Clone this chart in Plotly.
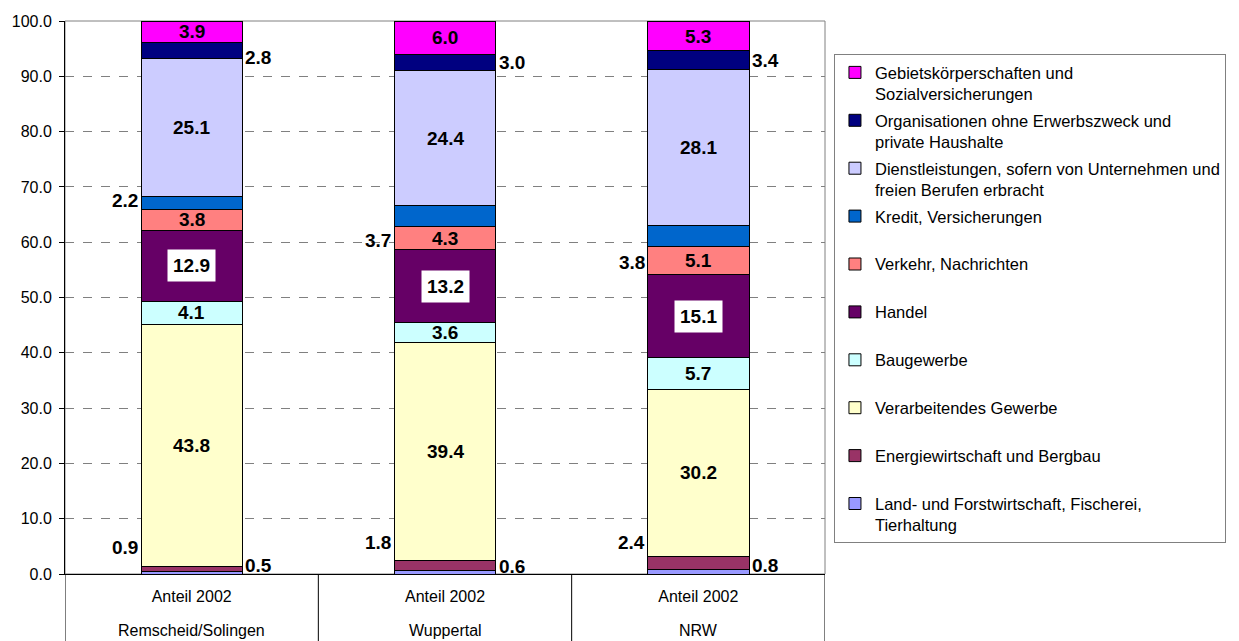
import plotly.graph_objects as go

regions = ["Remscheid/Solingen", "Wuppertal", "NRW"]
inner = ["Anteil 2002", "Anteil 2002", "Anteil 2002"]

# stacking order bottom -> top
sectors = [
    "Land- und Forstwirtschaft, Fischerei,<br>Tierhaltung",
    "Energiewirtschaft und Bergbau<br> ",
    "Verarbeitendes Gewerbe<br> ",
    "Baugewerbe<br> ",
    "Handel<br> ",
    "Verkehr, Nachrichten<br> ",
    "Kredit, Versicherungen<br> ",
    "Dienstleistungen, sofern von Unternehmen und<br>freien Berufen erbracht",
    "Organisationen ohne Erwerbszweck und<br>private Haushalte",
    "Gebietskörperschaften und<br>Sozialversicherungen",
]

land = [0.5, 0.6, 0.8]
energie = [0.9, 1.8, 2.4]
verarbeitend = [43.8, 39.4, 30.2]
bau = [4.1, 3.6, 5.7]
handel = [12.9, 13.2, 15.1]
verkehr = [3.8, 4.3, 5.1]
kredit = [2.2, 3.7, 3.8]
dienst = [25.1, 24.4, 28.1]
organisationen = [2.8, 3.0, 3.4]
gebiet = [3.9, 6.0, 5.3]

series = [land, energie, verarbeitend, bau, handel, verkehr, kredit, dienst, organisationen, gebiet]

colors = ["#9999FF", "#993366", "#FFFFCC", "#CCFFFF", "#660066",
          "#FF8080", "#0066CC", "#CCCCFF", "#000080", "#FF00FF"]

# label placement style per series: (side, yshift per region in px)
label_style = {
    0: ("right", [7, 6, 6]),
    1: ("left", [21, 23, 20]),
    6: ("left", [2, -25, -27]),
    8: ("right", [-7, 0, 0]),
}

FONT = "Liberation Sans, Arial"

fig = go.Figure()
n = len(series)
for k, (name, vals, col) in enumerate(zip(sectors, series, colors)):
    fig.add_trace(go.Bar(
        x=regions, y=vals, name=name,
        marker=dict(color=col, line=dict(color="black", width=1)),
        legendgroup=f"g{k}", legendrank=n - k,
    ))

annotations = []
for i in range(len(regions)):
    base = 0.0
    for k, vals in enumerate(series):
        v = vals[i]
        mid = base + v / 2
        txt = f"{v:.1f}"
        font = dict(family=FONT, size=19, color="black")
        if k in label_style:
            side, shifts = label_style[k]
            annotations.append(dict(
                x=i + (0.2 if side == "right" else -0.2), y=mid, xref="x", yref="y",
                text=f"<b>{txt}</b>", showarrow=False,
                xanchor="left" if side == "right" else "right",
                xshift=1 if side == "right" else -1,
                yshift=shifts[i], font=font,
            ))
        else:
            ann = dict(x=i, y=mid, xref="x", yref="y", text=f"<b>{txt}</b>",
                       showarrow=False, font=font)
            if k == 4:
                ann.update(bgcolor="white", borderpad=5)
            annotations.append(ann)
        base += v
    # outer category row (region name)
    annotations.append(dict(
        x=i, y=-0.103, xref="x", yref="paper", text=regions[i], showarrow=False,
        yanchor="middle", font=dict(family=FONT, size=16, color="black"),
    ))

shapes = [dict(type="rect", xref="paper", yref="paper", x0=0, x1=1, y0=0, y1=1,
               line=dict(color="#808080", width=1), layer="below")]
for b in [-0.5, 0.5, 1.5, 2.5]:
    shapes.append(dict(type="line", xref="x", yref="paper", x0=b, x1=b, y0=0, y1=-0.125,
                       line=dict(color="black", width=1)))

fig.update_layout(
    width=1231, height=633,
    margin=dict(l=57, r=414, t=13, b=67),
    paper_bgcolor="white", plot_bgcolor="white",
    barmode="stack", bargap=0.6,
    font=dict(family=FONT, size=16, color="black"),
    annotations=annotations,
    shapes=shapes,
    legend=dict(
        x=1.0118, y=0.94, xanchor="left", yanchor="top",
        traceorder="grouped", tracegroupgap=2, valign="top",
        bgcolor="white", bordercolor="#808080", borderwidth=1,
        font=dict(family=FONT, size=16.5, color="black"),
        itemwidth=30,
    ),
)

fig.update_yaxes(
    range=[0, 100], dtick=10, tickformat=".1f",
    showgrid=True, gridcolor="#808080", griddash="dash", gridwidth=1,
    showline=True, linecolor="black", linewidth=1,
    ticks="outside", ticklen=5, tickcolor="black", zeroline=False,
    tickfont=dict(size=16), automargin=False, ticklabelstandoff=4,
)
fig.update_xaxes(
    range=[-0.5, 2.5],
    tickvals=regions, ticktext=inner,
    showline=True, linecolor="black", linewidth=1,
    ticks="outside", ticklen=8, tickcolor="rgba(0,0,0,0)",
    tickfont=dict(size=16), automargin=False,
)

fig.write_html("out.html")
